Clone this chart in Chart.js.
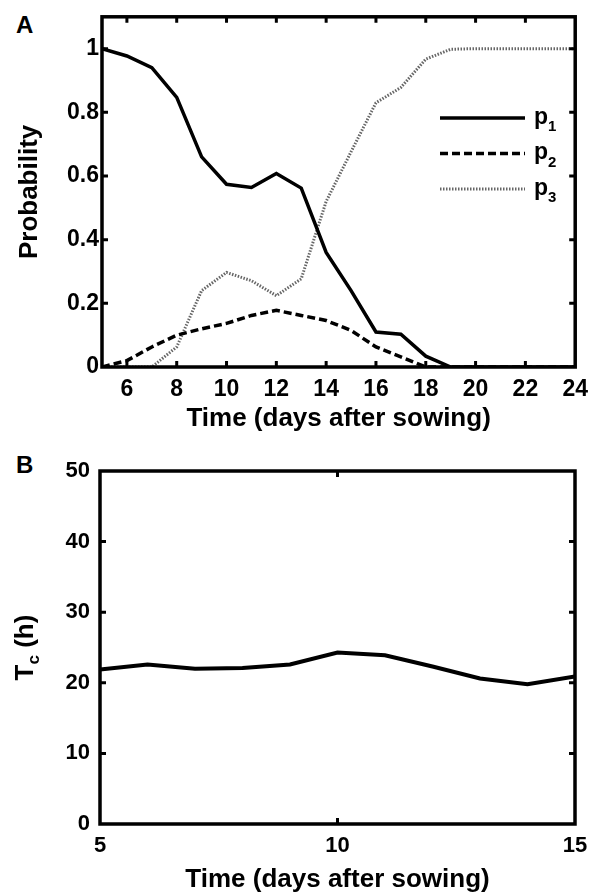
<!DOCTYPE html>
<html>
<head>
<meta charset="utf-8">
<script src="https://cdn.jsdelivr.net/npm/chart.js@4.4.0/dist/chart.umd.min.js"></script>
<style>
    body { margin: 0; background: #fff; width: 597px; height: 893px; position: relative; overflow: hidden; }
    .panel { position: absolute; left: 16px; font: bold 24px "Liberation Sans", Arial, sans-serif; line-height: 1; color: #000; }
    #chartA { position: absolute; left: 0; top: 0; }
    #chartB { position: absolute; left: 0; top: 440px; }
</style>
</head>
<body>
<div class="panel" style="top:13px">A</div>
<div class="panel" style="top:453px">B</div>
<canvas id="chartA" width="597" height="440"></canvas>
<canvas id="chartB" width="597" height="453"></canvas>
<script>
// Panneau A : probabilités
const daysA = [5, 6, 7, 8, 9, 10, 11, 12, 13, 14, 15, 16, 17, 18, 19, 20, 21, 22, 23, 24];
const p1 = [1.0, 0.977, 0.94, 0.847, 0.66, 0.574, 0.564, 0.608, 0.562, 0.36, 0.24, 0.11, 0.103, 0.034, 0, 0, 0, 0, 0, 0];
const p2 = [0, 0.02, 0.063, 0.1, 0.12, 0.137, 0.162, 0.178, 0.162, 0.146, 0.115, 0.063, 0.032, 0, 0, 0, 0, 0, 0, 0];
const p3 = [0, 0, 0, 0.063, 0.24, 0.297, 0.271, 0.224, 0.277, 0.52, 0.676, 0.83, 0.878, 0.967, 0.998, 1, 1, 1, 1, 1];
const xTicksA = [6, 8, 10, 12, 14, 16, 18, 20, 22, 24];
const yTicksA = [0, 0.2, 0.4, 0.6, 0.8, 1];
const yTickLabelsA = ['0', '0.2', '0.4', '0.6', '0.8', '1'];
const legendSubs = ['1', '2', '3'];

// Panneau B : Tc
const daysB = [5, 6, 7, 8, 9, 10, 11, 12, 13, 14, 15];
const tc = [21.9, 22.6, 22.0, 22.1, 22.6, 24.3, 23.9, 22.3, 20.6, 19.8, 20.9];
const xTicksB = [5, 10, 15];
const yTicksB = [0, 10, 20, 30, 40, 50];

const FONT = '"Liberation Sans", Arial, sans-serif';

function pts(xs, ys) {
    return ys.map((v, i) => ({ x: xs[i], y: v }));
}

// Cadre + graduations vers l'intérieur
const framePlugin = {
    id: 'frame',
    afterDatasetsDraw(chart) {
        const { ctx, chartArea: a, scales: { x, y } } = chart;
        ctx.save();
        ctx.strokeStyle = '#000';
        ctx.lineWidth = 3.5;
        ctx.strokeRect(a.left, a.top, a.right - a.left, a.bottom - a.top);
        const len = 6;
        ctx.lineWidth = 3;
        ctx.beginPath();
        x.ticks.forEach(t => {
            const px = x.getPixelForValue(t.value);
            if (px <= a.left + 2 || px >= a.right - 2) return;
            ctx.moveTo(px, a.bottom); ctx.lineTo(px, a.bottom - len);
            ctx.moveTo(px, a.top); ctx.lineTo(px, a.top + len);
        });
        y.ticks.forEach(t => {
            const py = y.getPixelForValue(t.value);
            if (py >= a.bottom - 2 || py <= a.top + 2) return;
            ctx.moveTo(a.left, py); ctx.lineTo(a.left + len, py);
            ctx.moveTo(a.right, py); ctx.lineTo(a.right - len, py);
        });
        ctx.stroke();
        ctx.restore();
    }
};

// Légende avec indices (p1, p2, p3)
const legendPlugin = {
    id: 'subLegend',
    afterDraw(chart) {
        const { ctx } = chart;
        ctx.save();
        chart.data.datasets.forEach((ds, i) => {
            const ly = 118 + i * 35.5;
            ctx.strokeStyle = ds.borderColor;
            ctx.lineWidth = ds.borderWidth;
            ctx.setLineDash(ds.borderDash || []);
            ctx.beginPath();
            ctx.moveTo(440, ly);
            ctx.lineTo(525, ly);
            ctx.stroke();
            ctx.setLineDash([]);
            ctx.fillStyle = '#000';
            ctx.textBaseline = 'alphabetic';
            ctx.font = 'bold 23px ' + FONT;
            ctx.fillText('p', 534, ly + 5.5);
            ctx.font = 'bold 15px ' + FONT;
            ctx.fillText(legendSubs[i], 548, ly + 13);
        });
        ctx.restore();
    }
};

// Titre vertical "Tc (h)" avec indice
const tcTitlePlugin = {
    id: 'tcTitle',
    afterDraw(chart) {
        const { ctx, chartArea: a } = chart;
        const cy = (a.top + a.bottom) / 2;
        ctx.save();
        ctx.translate(26, cy);
        ctx.rotate(-Math.PI / 2);
        ctx.fillStyle = '#000';
        ctx.textBaseline = 'middle';
        ctx.font = 'bold 26px ' + FONT;
        const wT = ctx.measureText('T').width;
        ctx.font = 'bold 17px ' + FONT;
        const wC = ctx.measureText('c').width;
        ctx.font = 'bold 26px ' + FONT;
        const wH = ctx.measureText(' (h)').width;
        let x0 = -(wT + wC + wH) / 2;
        ctx.fillText('T', x0, 0);
        ctx.font = 'bold 17px ' + FONT;
        ctx.fillText('c', x0 + wT, 8);
        ctx.font = 'bold 26px ' + FONT;
        ctx.fillText(' (h)', x0 + wT + wC, 0);
        ctx.restore();
    }
};

function baseScale(min, max, tickValues, fontSize, padding, labels) {
    return {
        type: 'linear',
        min: min,
        max: max,
        afterBuildTicks: s => { s.ticks = tickValues.map(v => ({ value: v })); },
        grid: { display: false, drawTicks: false },
        border: { display: false },
        ticks: {
            color: '#000',
            padding: padding,
            font: { family: FONT, size: fontSize, weight: 'bold' },
            callback: (v, i) => labels ? labels[i] : String(v)
        }
    };
}

const xA = baseScale(5, 24, xTicksA, 23, 9);
xA.afterFit = s => { s.height = 73; };
xA.title = { display: true, text: 'Time (days after sowing)', color: '#000',
    font: { family: FONT, size: 26, weight: 'bold', lineHeight: 1 }, padding: { top: 0, bottom: 8 } };

const yA = baseScale(0, 1.1, yTicksA, 23, 3, yTickLabelsA);
yA.afterFit = s => { s.width = 102; };
yA.title = { display: true, text: 'Probability', color: '#000',
    font: { family: FONT, size: 26, weight: 'bold', lineHeight: 1 }, padding: { top: 17, bottom: 0 } };

new Chart(document.getElementById('chartA').getContext('2d'), {
    type: 'line',
    data: {
        datasets: [
            { label: 'p1', data: pts(daysA, p1), borderColor: '#000', borderWidth: 3.5, pointRadius: 0, tension: 0 },
            { label: 'p2', data: pts(daysA, p2), borderColor: '#000', borderWidth: 3.5, borderDash: [8, 4], pointRadius: 0, tension: 0 },
            { label: 'p3', data: pts(daysA, p3), borderColor: '#666', borderWidth: 3, borderDash: [1.5, 1.5], pointRadius: 0, tension: 0 }
        ]
    },
    options: {
        responsive: false,
        animation: false,
        devicePixelRatio: 1,
        layout: { padding: { top: 14, right: 21, left: 0, bottom: 0 } },
        scales: { x: xA, y: yA },
        plugins: { legend: { display: false }, tooltip: { enabled: false } }
    },
    plugins: [framePlugin, legendPlugin]
});

const xB = baseScale(5, 15, xTicksB, 22, 9);
xB.afterFit = s => { s.height = 69; };
xB.title = { display: true, text: 'Time (days after sowing)', color: '#000',
    font: { family: FONT, size: 26, weight: 'bold', lineHeight: 1 }, padding: { top: 0, bottom: 0 } };

const yB = baseScale(0, 50, yTicksB, 22, 10);
yB.afterFit = s => { s.width = 100; };

new Chart(document.getElementById('chartB').getContext('2d'), {
    type: 'line',
    data: {
        datasets: [
            { label: 'Tc', data: pts(daysB, tc), borderColor: '#000', borderWidth: 4, pointRadius: 0, tension: 0 }
        ]
    },
    options: {
        responsive: false,
        animation: false,
        devicePixelRatio: 1,
        layout: { padding: { top: 31, right: 22, left: 0, bottom: 0 } },
        scales: { x: xB, y: yB },
        plugins: { legend: { display: false }, tooltip: { enabled: false } }
    },
    plugins: [framePlugin, tcTitlePlugin]
});
</script>
</body>
</html>
